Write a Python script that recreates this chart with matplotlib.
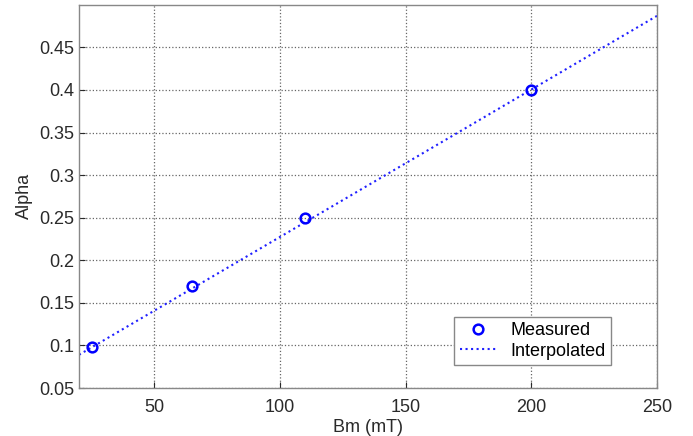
import matplotlib
matplotlib.use('Agg')
import matplotlib.pyplot as plt

# Measured points
bm_measured = [25, 65, 110, 200]
alpha_measured = [0.098, 0.17, 0.25, 0.40]

# Interpolated line end points
bm_interp = [20, 250]
alpha_interp = [0.089, 0.487]

x_ticks = [50, 100, 150, 200, 250]
y_ticks = [0.05, 0.1, 0.15, 0.2, 0.25, 0.3, 0.35, 0.4, 0.45]
y_labels = ['0.05', '0.1', '0.15', '0.2', '0.25', '0.3', '0.35', '0.4', '0.45']

plt.rcParams['font.family'] = ['Liberation Sans', 'DejaVu Sans']

fig = plt.figure(figsize=(6.93, 4.36), dpi=100)
ax = fig.add_axes([0.114, 0.110, 0.834, 0.879])

ax.plot(bm_measured, alpha_measured, 'o', color='#0000ff', markerfacecolor='none',
        markersize=7, markeredgewidth=1.8, label='Measured', zorder=3)
ax.plot(bm_interp, alpha_interp, ':', color='#2020ff', linewidth=1.5,
        label='Interpolated', zorder=2)

ax.set_xlim(20, 250)
ax.set_ylim(0.05, 0.5)
ax.set_xticks(x_ticks)
ax.set_yticks(y_ticks)
ax.set_yticklabels(y_labels)
ax.tick_params(direction='in', labelsize=13, colors='#2a2a2a', length=4)
ax.tick_params(axis='x', pad=8)
ax.grid(True, linestyle=':', color='#666666', linewidth=0.9)
for s in ax.spines.values():
    s.set_color('#888888')
    s.set_linewidth(1.0)

ax.set_xlabel('Bm (mT)', fontsize=13, color='#2a2a2a', labelpad=2)
ax.set_ylabel('Alpha', fontsize=13, color='#2a2a2a', labelpad=4)

leg = ax.legend(loc='lower right', bbox_to_anchor=(0.920, 0.060), borderaxespad=0,
                fontsize=13, fancybox=False, framealpha=1, edgecolor='#888888',
                handlelength=2.0, borderpad=0.3, labelspacing=0.2, handletextpad=0.8)
leg.get_frame().set_linewidth(1.0)

fig.savefig('out.png', dpi=100)
